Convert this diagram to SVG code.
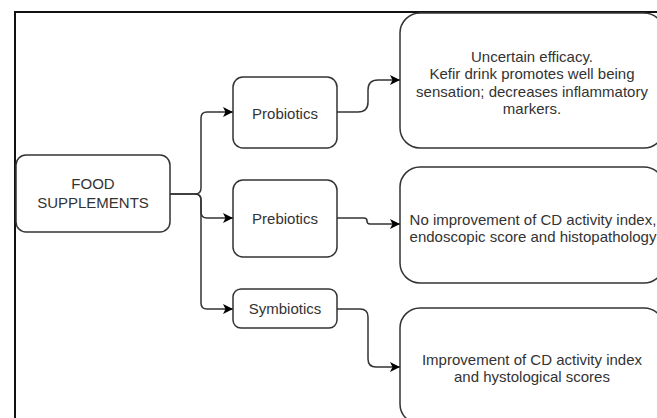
<svg xmlns="http://www.w3.org/2000/svg" width="657" height="418" viewBox="0 0 657 418">
<style>
.box{fill:#fff;stroke:#333;stroke-width:1.5}
.t{font-family:"Liberation Sans",Arial,sans-serif;font-size:15px;fill:#333;text-anchor:middle}
.c{fill:none;stroke:#333;stroke-width:1.5}
</style>
<defs>
<marker id="ah" viewBox="0 0 10 10" refX="10" refY="5" markerWidth="10" markerHeight="10" markerUnits="userSpaceOnUse" orient="auto">
<path d="M0,0 L10,5 L0,10 L2.5,5 Z" fill="#000"/>
</marker>
</defs>
<rect width="657" height="418" fill="#fff"/>
<rect x="15" y="12" width="700" height="500" fill="none" stroke="#111" stroke-width="2"/>
<g id="connectors">
<path class="c" d="M170,194 H195 Q201,194 201,188 V118 Q201,112 207,112 H233" marker-end="url(#ah)"/>
<path class="c" d="M170,194 H195 Q201,194 201,200 V212 Q201,218 207,218 H233" marker-end="url(#ah)"/>
<path class="c" d="M195,194 Q201,194 201,200 V303 Q201,309 207,309 H233" marker-end="url(#ah)"/>
<path class="c" d="M337,112 H358 Q368,112 368,102 V90 Q368,80 378,80 H400" marker-end="url(#ah)"/>
<path class="c" d="M337,218 H364 Q367,218 367,221 Q367,224 370,224 H400" marker-end="url(#ah)"/>
<path class="c" d="M337,309 H360 Q368,309 368,317 V359 Q368,367 376,367 H400" marker-end="url(#ah)"/>
</g>
<g id="food">
<rect class="box" x="16" y="155" width="154" height="77" rx="10"/>
<text class="t" x="93" y="189">FOOD</text>
<text class="t" x="93" y="208">SUPPLEMENTS</text>
</g>
<g id="probiotics">
<rect class="box" x="233" y="77" width="104" height="71" rx="10"/>
<text class="t" x="285" y="119">Probiotics</text>
</g>
<g id="prebiotics">
<rect class="box" x="233" y="180" width="104" height="77" rx="10"/>
<text class="t" x="285" y="224">Prebiotics</text>
</g>
<g id="symbiotics">
<rect class="box" x="233" y="289" width="104" height="39" rx="8"/>
<text class="t" x="285" y="314">Symbiotics</text>
</g>
<g id="res1">
<rect class="box" x="400" y="13" width="264" height="135" rx="20"/>
<text class="t" x="532" y="61.5">Uncertain efficacy.</text>
<text class="t" x="532" y="79">Kefir drink promotes well being</text>
<text class="t" x="532" y="96.5">sensation; decreases inflammatory</text>
<text class="t" x="532" y="113.5">markers.</text>
</g>
<g id="res2">
<rect class="box" x="400" y="167" width="264" height="116" rx="20"/>
<text class="t" x="533" y="224.5">No improvement of CD activity index,</text>
<text class="t" x="533" y="241.5">endoscopic score and histopathology</text>
</g>
<g id="res3">
<rect class="box" x="400" y="308" width="264" height="116" rx="20"/>
<text class="t" x="532" y="365">Improvement of CD activity index</text>
<text class="t" x="532" y="382">and hystological scores</text>
</g>
</svg>
